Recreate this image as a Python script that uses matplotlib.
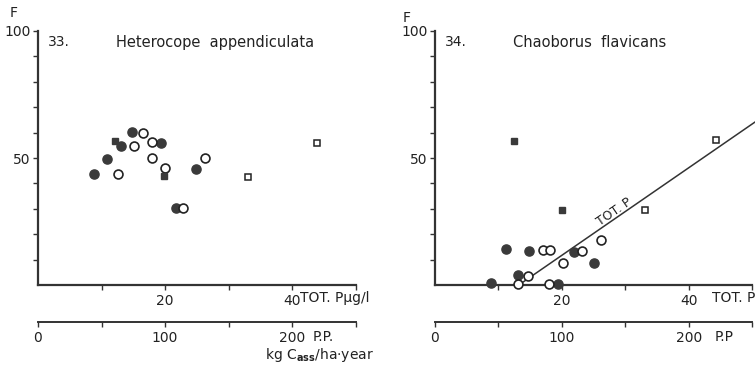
import matplotlib
matplotlib.use("Agg")
import matplotlib.pyplot as plt

plt.rcParams['font.family'] = ['DejaVu Sans']

# ---- data: panel 33 (Heterocope appendiculata) ----
l_fc_x = [8.8, 10.8, 13.0, 14.75, 19.4, 24.9, 21.8]
l_fc_y = [43.7, 49.5, 54.7, 60.1, 56.0, 45.8, 30.2]
l_oc_x = [12.6, 15.1, 16.6, 17.9, 17.9, 20.0, 26.3, 22.9]
l_oc_y = [43.7, 54.7, 60.0, 56.3, 49.9, 45.9, 50.1, 30.2]
l_fs_x = [12.2, 19.9]
l_fs_y = [56.8, 42.9]
l_os_x = [33.1, 43.9]
l_os_y = [42.6, 56.0]

# ---- data: panel 34 (Chaoborus flavicans) ----
r_fc_x = [11.2, 14.8, 21.9, 25.0, 13.1, 8.8, 19.4]
r_fc_y = [14.2, 13.4, 13.0, 8.8, 3.9, 0.7, 0.4]
r_oc_x = [17.0, 18.1, 23.1, 26.1, 20.2, 14.7, 13.0, 18.0]
r_oc_y = [13.8, 13.8, 13.4, 17.7, 8.5, 3.5, 0.5, 0.5]
r_fs_x = [12.4, 20.0]
r_fs_y = [56.8, 29.5]
r_os_x = [33.0, 44.3]
r_os_y = [29.5, 57.1]
line_x = [13.2, 51.0]
line_y = [0.0, 65.2]

y_ticks = [10, 20, 30, 40, 50, 60, 70, 80, 90, 100]
y_labels = ['', '', '', '', '50', '', '', '', '', '100']
x_ticks = [10, 20, 30, 40, 50]
x_labels = ['', '20', '', '40', '']
pp_ticks = [0, 50, 100, 150, 200, 250]
pp_labels = ['0', '', '100', '', '200', '']

INK = '#333333'
TXT = '#222222'
W, H = 755, 368
AX_W, AX_H = 317.5, 254
SEC = -37 / AX_H
fig = plt.figure(figsize=(W / 100, H / 100), dpi=100)

def px_axes(x0, y0_px):
    return fig.add_axes([x0 / W, (H - y0_px) / H, AX_W / W, AX_H / H])

def setup(ax, x0, number, title, f_xy, xtail, xtail_x, pptail, pptail_x):
    ax.set_xlim(0, 50)
    ax.set_ylim(0, 100)
    for s in ['top', 'right']:
        ax.spines[s].set_visible(False)
    for s in ['left', 'bottom']:
        ax.spines[s].set_linewidth(1.6)
        ax.spines[s].set_color(INK)
    ax.set_yticks(y_ticks)
    ax.set_yticklabels(y_labels)
    ax.set_xticks(x_ticks)
    ax.set_xticklabels(x_labels)
    ax.tick_params(axis='both', direction='out', length=3.5, width=1.0,
                   color=INK, labelsize=10, labelcolor=TXT, pad=2)
    ax.tick_params(axis='x', pad=3)
    sec = ax.secondary_xaxis(SEC, functions=(lambda v: v * 5, lambda v: v / 5))
    sec.set_xticks(pp_ticks)
    sec.set_xticklabels(pp_labels)
    sec.spines['bottom'].set_linewidth(1.4)
    sec.spines['bottom'].set_color(INK)
    sec.tick_params(direction='out', length=3.5, width=1.0, color=INK,
                    labelsize=10, labelcolor=TXT, pad=3)
    fx = (f_xy[0] - x0) / AX_W
    fy = (285 - f_xy[1]) / AX_H
    ax.text(fx, fy, 'F', transform=ax.transAxes, ha='center', va='center',
            fontsize=10, color=TXT)
    ax.text(0.03, 0.955, number, transform=ax.transAxes, ha='left', va='center',
            fontsize=10, color=TXT)
    ax.text(0.245, 0.955, title, transform=ax.transAxes, ha='left', va='center',
            fontsize=10.5, color=TXT)
    ax.text((xtail_x - x0) / AX_W, -(298 - 285) / AX_H, xtail, transform=ax.transAxes,
            ha='left', va='center', fontsize=10, color=TXT, clip_on=False)
    ax.text((pptail_x - x0) / AX_W, -(337 - 285) / AX_H, pptail, transform=ax.transAxes,
            ha='left', va='center', fontsize=10, color=TXT, clip_on=False)

def points(ax, fcx, fcy, ocx, ocy, fsx, fsy, osx, osy):
    kw = dict(linestyle='none', clip_on=False, zorder=5)
    ax.plot(fcx, fcy, marker='o', markersize=6.6, markerfacecolor='#3a3a3a',
            markeredgecolor='#3a3a3a', **kw)
    ax.plot(ocx, ocy, marker='o', markersize=6.4, markerfacecolor='white',
            markeredgecolor=TXT, markeredgewidth=1.2, **kw)
    ax.plot(fsx, fsy, marker='s', markersize=5.0, markerfacecolor='#3a3a3a',
            markeredgecolor='#3a3a3a', **kw)
    ax.plot(osx, osy, marker='s', markersize=4.3, markerfacecolor='white',
            markeredgecolor=TXT, markeredgewidth=1.1, **kw)

# left panel
xL = 38
axL = px_axes(xL, 285)
setup(axL, xL, '33.', 'Heterocope  appendiculata', (14, 13),
      'TOT. P\u00b5g/l', 300, 'P.P.', 313)
points(axL, l_fc_x, l_fc_y, l_oc_x, l_oc_y, l_fs_x, l_fs_y, l_os_x, l_os_y)
axL.text((319 - xL) / AX_W, -(355 - 285) / AX_H, 'kg C$_{\\mathbf{ass}}$/ha\u00b7year',
         transform=axL.transAxes, ha='center', va='center', fontsize=10,
         color=TXT, clip_on=False)

# right panel
xR = 435
axR = px_axes(xR, 285)
setup(axR, xR, '34.', 'Chaoborus  flavicans', (407, 18), 'TOT. P', 712, 'P.P', 715)
axR.plot(line_x, line_y, color=INK, linewidth=1.1, clip_on=False, zorder=3)
points(axR, r_fc_x, r_fc_y, r_oc_x, r_oc_y, r_fs_x, r_fs_y, r_os_x, r_os_y)
axR.text(28.2, 28.8, 'TOT. P', rotation=34.6, rotation_mode='anchor', ha='center',
         va='center', fontsize=9, color=TXT)

fig.savefig('out.png', dpi=100)
